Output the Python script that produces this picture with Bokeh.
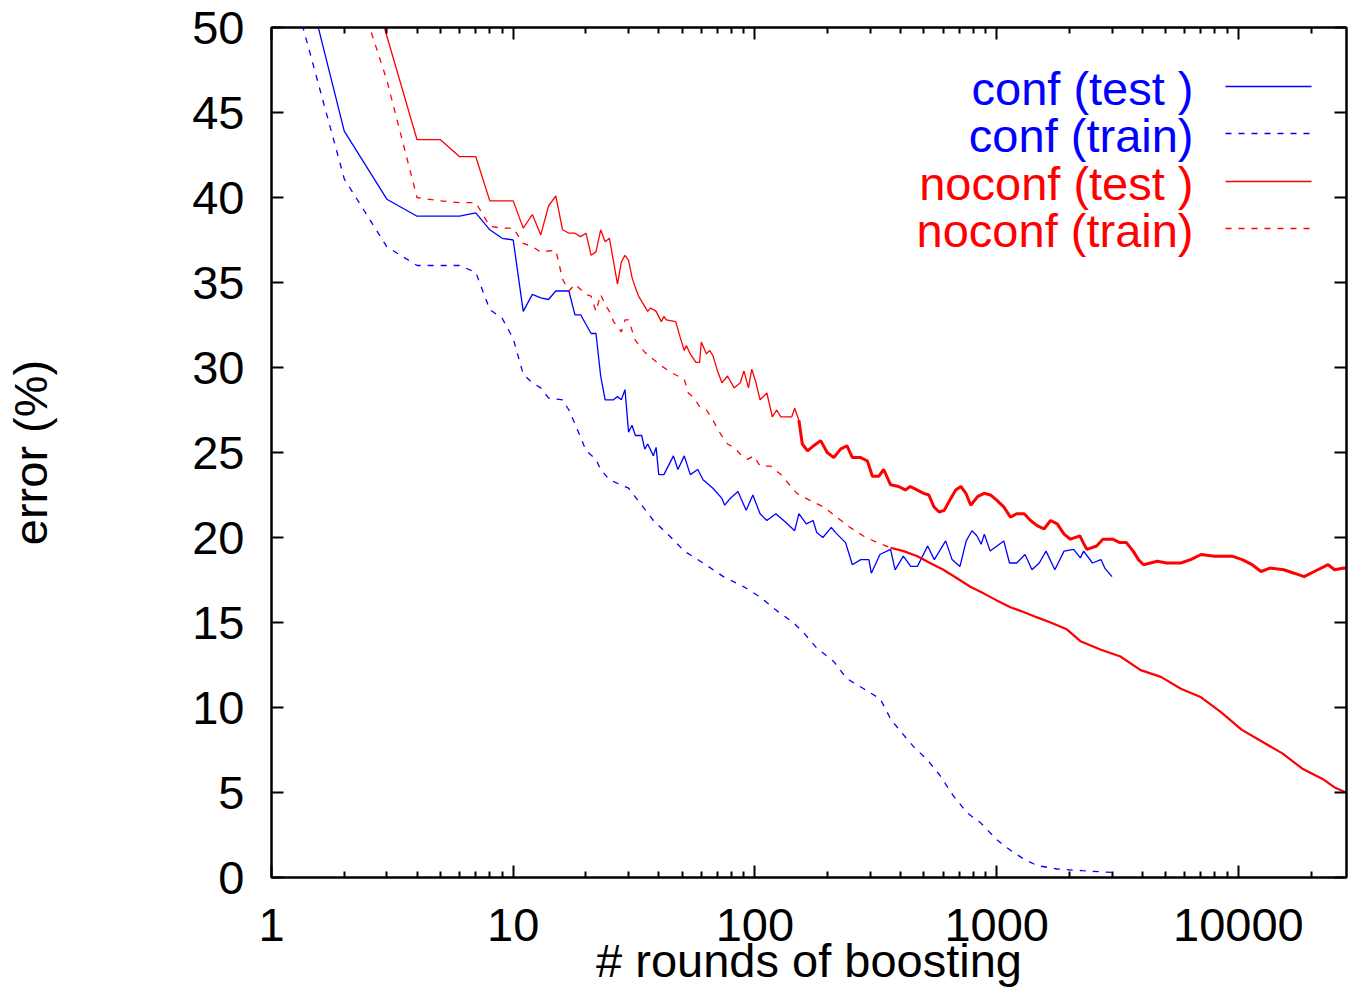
from bokeh.plotting import figure
from bokeh.models import FixedTicker, NumeralTickFormatter, LinearAxis, LogAxis, Label, Arrow
from bokeh.embed import file_html
from bokeh.resources import INLINE

# ---------------- data ----------------
conf_test_x = [1, 2, 3, 4, 5, 6, 7, 8, 9, 10,
               11, 12, 13, 14, 15, 16, 17, 18, 19, 21,
               22, 23, 24, 26, 27, 28, 29, 30, 31, 32,
               34, 35, 36, 38, 39, 40, 42, 46, 48, 51,
               54, 58, 61, 67, 73, 75, 79, 85, 92, 98,
               105, 112, 122, 134, 146, 152, 163, 174, 180, 191,
               207, 215, 237, 253, 274, 296, 303, 329, 364, 380,
               411, 441, 470, 518, 552, 615, 654, 705, 748, 790,
               828, 863, 889, 940, 1070, 1130, 1210, 1310, 1400, 1500,
               1600, 1740, 1900, 2080, 2220, 2290, 2490, 2700, 2800, 3000]
conf_test_y = [61.0, 43.9, 39.9, 38.9, 38.9, 38.9, 39.1, 38.1, 37.6, 37.5,
               33.3, 34.3, 34.1, 34.0, 34.5, 34.5, 34.5, 33.1, 33.1, 32.0,
               32.0, 29.5, 28.1, 28.1, 28.3, 28.1, 28.7, 26.2, 26.6, 26.0,
               26.0, 25.2, 25.5, 24.8, 25.3, 23.7, 23.7, 24.8, 24.0, 24.8,
               23.7, 24.0, 23.4, 22.9, 22.3, 21.9, 22.3, 22.7, 21.6, 22.5,
               21.4, 21.0, 21.4, 20.9, 20.4, 21.4, 20.8, 21.0, 20.3, 20.0,
               20.6, 20.3, 19.7, 18.4, 18.7, 18.7, 17.9, 19.0, 19.3, 18.1,
               18.9, 18.3, 18.3, 19.5, 18.7, 19.8, 18.7, 18.3, 19.8, 20.4,
               20.1, 19.6, 20.2, 19.2, 19.8, 18.5, 18.5, 19.0, 18.1, 18.5,
               19.2, 18.1, 19.2, 19.3, 18.8, 19.2, 18.5, 18.7, 18.2, 17.7]

conf_train_x = [1, 2, 3, 4, 5, 6, 7, 8, 9, 10,
                11, 12, 13, 14, 16, 17, 19, 20, 22, 23,
                25, 30, 38, 45, 51, 61, 74, 90, 105, 123,
                144, 159, 180, 212, 240, 282, 330, 365, 400, 453,
                518, 583, 662, 755, 860, 1005, 1140, 1290, 1470, 1780,
                2270, 3000]
conf_train_y = [56.8, 41.1, 37.1, 36.0, 36.0, 36.0, 35.6, 33.4, 32.9, 31.7,
                29.6, 29.1, 28.8, 28.2, 28.1, 27.5, 25.9, 25.1, 24.6, 24.0,
                23.4, 22.9, 21.0, 20.0, 19.2, 18.5, 17.7, 17.1, 16.5, 15.7,
                15.0, 14.4, 13.5, 12.7, 11.7, 11.1, 10.5, 9.3, 8.6, 7.7,
                6.9, 6.0, 4.8, 3.8, 3.2, 2.2, 1.6, 1.1, 0.7, 0.5,
                0.4, 0.3]

noconf_test_x = [1, 2, 3, 4, 5, 6, 7, 8, 9, 10,
                 11, 12, 13, 14, 15, 16, 17, 18, 19, 20,
                 21, 22, 23, 24, 25, 27, 28, 29, 30, 31,
                 32, 33, 36, 37, 39, 41, 42, 43, 47, 49,
                 51, 52, 54, 57, 59, 60, 63, 65, 67, 70,
                 73, 77, 82, 87, 90, 94, 97, 101, 105, 112,
                 118, 123, 128, 142, 146, 152, 157, 165, 175, 187,
                 199, 212, 226, 240, 253, 274, 292, 306, 325, 341,
                 364, 393, 419, 439, 468, 499, 524, 550, 578, 607,
                 646, 677, 711, 746, 781, 833, 887, 943, 1000, 1070,
                 1140, 1210, 1300, 1380, 1470, 1570, 1670, 1780, 1900, 2020,
                 2210, 2280, 2360, 2590, 2750, 3020, 3230, 3440, 3670, 3860,
                 4050, 4620, 5050, 5770, 6350, 7000, 7970, 9400, 10370, 11400,
                 12400, 13500, 15400, 17000, 18700, 20600, 23500, 25000, 27400, 30000]
noconf_test_y = [70.0, 58.0, 49.5, 43.4, 43.4, 42.4, 42.4, 39.8, 39.8, 39.8,
                 38.2, 39.0, 37.8, 39.5, 40.1, 38.1, 37.9, 37.9, 37.7, 37.9,
                 36.6, 36.8, 38.1, 37.4, 37.6, 34.9, 36.2, 36.6, 36.3, 35.3,
                 34.7, 34.2, 33.3, 33.5, 33.3, 32.7, 33.0, 32.8, 32.7, 31.8,
                 31.0, 31.3, 30.8, 30.3, 30.3, 31.5, 30.8, 31.0, 30.7, 29.8,
                 29.1, 29.5, 28.8, 29.1, 29.8, 28.8, 29.9, 29.1, 28.1, 28.5,
                 27.1, 27.5, 27.1, 27.1, 27.6, 26.9, 25.5, 25.1, 25.4, 25.7,
                 25.0, 24.7, 25.2, 25.4, 24.7, 24.7, 24.5, 23.6, 23.6, 24.0,
                 23.1, 23.0, 22.8, 23.0, 22.8, 22.6, 22.5, 21.8, 21.5, 21.6,
                 22.3, 22.8, 23.0, 22.6, 21.9, 22.4, 22.6, 22.5, 22.2, 21.8,
                 21.2, 21.4, 21.4, 21.0, 20.7, 20.5, 21.0, 20.8, 20.2, 19.9,
                 20.1, 19.7, 19.3, 19.5, 19.9, 19.9, 19.7, 19.7, 19.2, 18.7,
                 18.4, 18.6, 18.5, 18.5, 18.7, 19.0, 18.9, 18.9, 18.7, 18.4,
                 18.0, 18.2, 18.1, 17.9, 17.7, 18.0, 18.4, 18.1, 18.2, 18.1]

noconf_train_x = [1, 2, 3, 4, 5, 6, 7, 8, 9, 10,
                  11, 12, 13, 15, 16, 17, 18, 20, 21, 22,
                  23, 24, 25, 26, 28, 29, 30, 32, 35, 37,
                  41, 45, 48, 51, 53, 56, 59, 63, 67, 72,
                  77, 82, 87, 93, 99, 105, 116, 128, 149, 168,
                  192, 218, 247, 280, 320, 364, 412, 470, 530, 602,
                  685, 778, 886, 1000, 1140, 1300, 1470, 1670, 1950, 2220,
                  2700, 3250, 3940, 4780, 5780, 7010, 8520, 10300, 12500, 15200,
                  18400, 22300, 25000, 30000]
noconf_train_y = [67.9, 54.6, 46.9, 40.0, 39.8, 39.7, 39.7, 38.3, 38.2, 38.2,
                  37.3, 37.1, 36.8, 36.9, 35.2, 34.5, 34.9, 34.3, 34.2, 33.3,
                  34.3, 33.7, 33.3, 32.7, 32.1, 32.8, 32.8, 31.6, 30.9, 30.6,
                  30.1, 29.7, 29.5, 29.3, 28.5, 28.2, 27.7, 27.5, 26.9, 26.1,
                  25.5, 25.3, 24.9, 24.6, 24.8, 24.2, 24.2, 23.7, 22.6, 22.2,
                  21.8, 21.2, 20.6, 20.1, 19.7, 19.4, 19.2, 18.9, 18.5, 18.1,
                  17.6, 17.1, 16.7, 16.3, 15.9, 15.6, 15.3, 15.0, 14.6, 13.9,
                  13.4, 13.0, 12.2, 11.8, 11.1, 10.6, 9.7, 8.7, 8.0, 7.3,
                  6.4, 5.8, 5.3, 4.8]

series_labels = ["conf (test )", "conf (train)", "noconf (test )", "noconf (train)"]
x_major_ticks = [1, 10, 100, 1000, 10000]
y_major_ticks = [0, 5, 10, 15, 20, 25, 30, 35, 40, 45, 50]
x_title = "# rounds of boosting"
y_title = "error (%)"

# ---------------- style ----------------
BLUE = "#0000ff"
RED = "#ff0000"
FONT = "Liberation Sans"
FS = "47px"

x_minor = [m * d for d in (1, 10, 100, 1000, 10000) for m in range(2, 10) if m * d <= 30000]

p = figure(width=1348, height=989, x_axis_type="log", x_range=(1, 28000), y_range=(0, 50),
           output_backend="svg", toolbar_location=None,
           min_border_left=271, min_border_right=2, min_border_top=27, min_border_bottom=111)
p.background_fill_color = "white"
p.border_fill_color = "white"
p.outline_line_color = "black"
p.outline_line_width = 2
p.xgrid.grid_line_color = None
p.ygrid.grid_line_color = None

xt = FixedTicker(ticks=x_major_ticks, minor_ticks=x_minor)
yt = FixedTicker(ticks=y_major_ticks, minor_ticks=[])


def style_axis(ax, show_labels):
    ax.axis_line_color = "black"
    ax.axis_line_width = 2
    ax.major_tick_line_color = "black"
    ax.major_tick_line_width = 2
    ax.minor_tick_line_color = "black"
    ax.minor_tick_line_width = 2
    ax.major_tick_in = 12
    ax.major_tick_out = 0
    ax.minor_tick_in = 6
    ax.minor_tick_out = 0
    if show_labels:
        ax.major_label_text_font = FONT
        ax.major_label_text_font_size = FS
        ax.major_label_text_color = "black"
        ax.axis_label_text_font = FONT
        ax.axis_label_text_font_size = FS
        ax.axis_label_text_font_style = "normal"
        ax.axis_label_text_color = "black"
    else:
        ax.major_label_text_font_size = "1px"
        ax.major_label_text_color = None
        ax.major_label_standoff = 0


xa = p.xaxis[0]
xa.ticker = xt
xa.formatter = NumeralTickFormatter(format="0")
style_axis(xa, True)
xa.axis_label = x_title
xa.major_label_standoff = 31
xa.axis_label_standoff = -10

ya = p.yaxis[0]
ya.ticker = yt
style_axis(ya, True)
ya.axis_label = y_title
ya.major_label_standoff = 27
ya.axis_label_standoff = 132

top = LogAxis(ticker=xt)
style_axis(top, False)
p.add_layout(top, "above")
right = LinearAxis(ticker=yt)
style_axis(right, False)
p.add_layout(right, "right")

# ---------------- series ----------------
p.line(conf_test_x, conf_test_y, line_color=BLUE, line_width=1.3)
p.line(conf_train_x, conf_train_y, line_color=BLUE, line_width=1.3, line_dash="6 7")

p.line(noconf_test_x, noconf_test_y, line_color=RED, line_width=1.3)
k = next(i for i, v in enumerate(noconf_test_x) if v >= 150)
p.line(noconf_test_x[k:], noconf_test_y[k:], line_color=RED, line_width=3)

j = next(i for i, v in enumerate(noconf_train_x) if v >= 364)
p.line(noconf_train_x[:j + 1], noconf_train_y[:j + 1], line_color=RED, line_width=1.3, line_dash="6 7")
p.line(noconf_train_x[j:], noconf_train_y[j:], line_color=RED, line_width=2.2)

# ---------------- legend (gnuplot style: text right-aligned, sample on the right) ----------------
row_y = [791, 744, 696, 649]
colors = [BLUE, BLUE, RED, RED]
dashes = ["solid", "6 7", "solid", "6 7"]
for lab, yy, c, d in zip(series_labels, row_y, colors, dashes):
    p.add_layout(Label(x=922, y=yy - 2, x_units="screen", y_units="screen", text=lab,
                       text_align="right", text_baseline="middle", text_color=c,
                       text_font=FONT, text_font_size=FS))
    p.add_layout(Arrow(end=None, x_start=954, y_start=yy, x_end=1040, y_end=yy,
                       start_units="screen", end_units="screen",
                       line_color=c, line_width=1.3, line_dash=d))

open("out.html", "w").write(file_html(p, INLINE))
